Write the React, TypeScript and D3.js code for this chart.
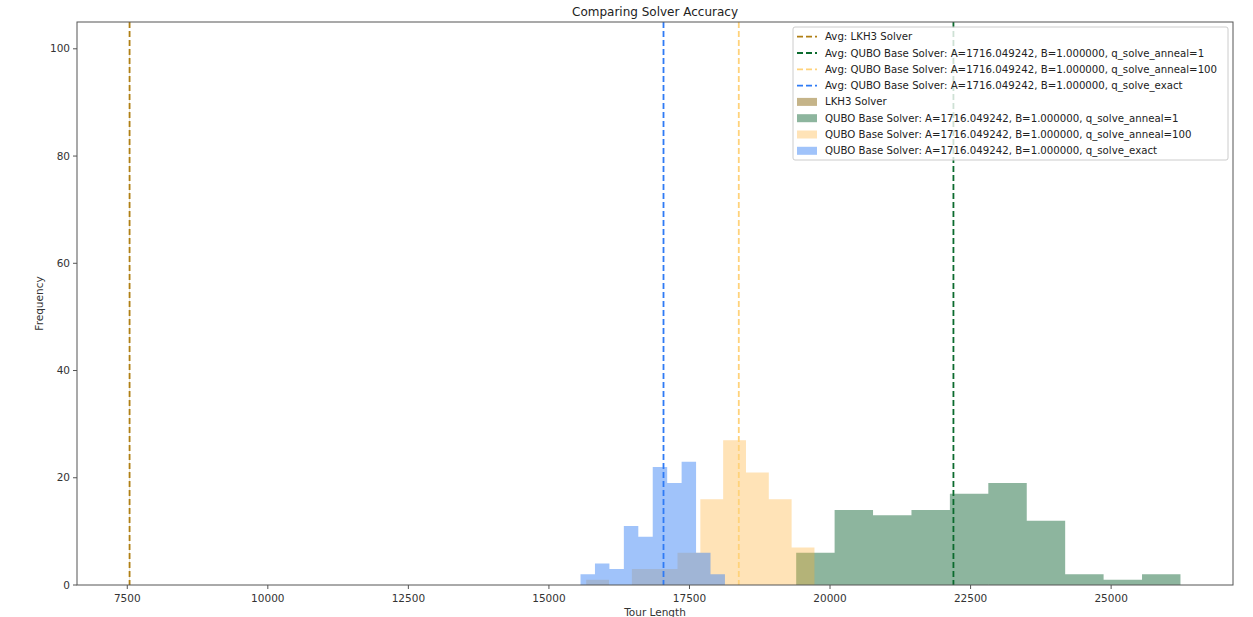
import * as d3 from "d3";

const W = 1253;
const H = 617;
const M = { top: 22, right: 20, bottom: 32, left: 77 };
const FONT = "'DejaVu Sans', Verdana, sans-serif";

// histogram series: [lo, hi] range of the 10 bins + counts
const lkhRange = [7540.5, 7541.5];
const lkhCounts = [0, 0, 0, 0, 0, 100, 0, 0, 0, 0];
const annealOneRange = [19398, 26233];
const annealOneCounts = [6, 14, 13, 14, 17, 19, 12, 2, 1, 2];
const annealHundredRange = [15663, 19723];
const annealHundredCounts = [1, 0, 3, 3, 6, 16, 27, 21, 16, 7];
const exactRange = [15562, 18131];
const exactCounts = [2, 4, 3, 11, 9, 22, 19, 23, 6, 2];

// averages (dashed lines)
const averages = [7541, 22195, 18377, 17038];

const xTicks = [7500, 10000, 12500, 15000, 17500, 20000, 22500, 25000];
const yTicks = [0, 20, 40, 60, 80, 100];

const PARAMS = "A=1716.049242, B=1.000000, ";
const lineLabels = [
  "Avg: LKH3 Solver",
  `Avg: QUBO Base Solver: ${PARAMS}q_solve_anneal=1`,
  `Avg: QUBO Base Solver: ${PARAMS}q_solve_anneal=100`,
  `Avg: QUBO Base Solver: ${PARAMS}q_solve_exact`,
];
const histLabels = [
  "LKH3 Solver",
  `QUBO Base Solver: ${PARAMS}q_solve_anneal=1`,
  `QUBO Base Solver: ${PARAMS}q_solve_anneal=100`,
  `QUBO Base Solver: ${PARAMS}q_solve_exact`,
];

const lineColors = ["#b07f14", "#0b6b2e", "#ffd27a", "#2f7bf5"];
const fillColors = ["#8b6914", "#1c6b3d", "#ffae30", "#4287f5"];
const fillOpacity = [0.5, 0.5, 0.35, 0.5];

const series = [
  { range: lkhRange, counts: lkhCounts },
  { range: annealOneRange, counts: annealOneCounts },
  { range: annealHundredRange, counts: annealHundredCounts },
  { range: exactRange, counts: exactCounts },
];

export default function App() {
  const innerW = W - M.left - M.right;
  const innerH = H - M.top - M.bottom;

  const xMin = d3.min(series, (s) => s.range[0]) as number;
  const xMax = d3.max(series, (s) => s.range[1]) as number;
  const pad = (xMax - xMin) * 0.05;
  const x = d3.scaleLinear().domain([xMin - pad, xMax + pad]).range([0, innerW]);
  const y = d3.scaleLinear().domain([0, 105]).range([innerH, 0]);

  // one path per series so neighbouring bins don't leave seams
  const histPath = (s: { range: number[]; counts: number[] }) => {
    const [lo, hi] = s.range;
    const step = (hi - lo) / s.counts.length;
    const p = d3.path();
    s.counts.forEach((c, i) => {
      if (c <= 0) return;
      const x0 = x(lo + i * step);
      const x1 = x(lo + (i + 1) * step);
      p.rect(x0, y(c), Math.max(x1 - x0, 0.3), y(0) - y(c));
    });
    return p.toString();
  };

  const legendX = 793 - M.left;
  const legendY = 27 - M.top;
  const rowH = 16.3;

  return (
    <div style={{ position: "absolute", left: 0, top: 0, background: "#fff" }}>
      <svg width={W} height={H} style={{ display: "block", fontFamily: FONT }}>
        <text x={M.left + innerW / 2} y={16} textAnchor="middle" fontSize={12} fill="#222">
          Comparing Solver Accuracy
        </text>
        <g transform={`translate(${M.left},${M.top})`}>
          {/* histograms */}
          {series.map((s, si) => (
            <path key={si} d={histPath(s)} fill={fillColors[si]} fillOpacity={fillOpacity[si]} />
          ))}

          {/* average lines */}
          {averages.map((v, i) => (
            <line
              key={i}
              x1={x(v)}
              x2={x(v)}
              y1={0}
              y2={innerH}
              stroke={lineColors[i]}
              strokeWidth={1.8}
              strokeDasharray="6 3"
            />
          ))}

          {/* frame */}
          <rect x={0} y={0} width={innerW} height={innerH} fill="none" stroke="#555" strokeWidth={1} />

          {/* x axis */}
          {xTicks.map((t) => (
            <g key={t} transform={`translate(${x(t)},${innerH})`}>
              <line y2={4} stroke="#555" />
              <text y={17} textAnchor="middle" fontSize={10.5} fill="#333">
                {t}
              </text>
            </g>
          ))}
          <text x={innerW / 2} y={innerH + 31} textAnchor="middle" fontSize={10.5} fill="#333">
            Tour Length
          </text>

          {/* y axis */}
          {yTicks.map((t) => (
            <g key={t} transform={`translate(0,${y(t)})`}>
              <line x2={-4} stroke="#555" />
              <text x={-7} dy="0.35em" textAnchor="end" fontSize={10.5} fill="#333">
                {t}
              </text>
            </g>
          ))}
          <text
            transform={`translate(${43 - M.left},${y(52.5)}) rotate(-90)`}
            textAnchor="middle"
            fontSize={10.5}
            fill="#333">
            Frequency
          </text>

          {/* legend */}
          <g transform={`translate(${legendX},${legendY})`}>
            <rect
              x={0}
              y={0}
              width={435}
              height={133}
              rx={2}
              fill="#fff"
              fillOpacity={0.8}
              stroke="#ccc"
            />
            {lineLabels.map((lab, i) => (
              <g key={lab} transform={`translate(4,${9.7 + i * rowH})`}>
                <line x1={0} x2={20} stroke={lineColors[i]} strokeWidth={1.8} strokeDasharray="6 3" />
                <text x={28} dy="0.35em" fontSize={10.2} fill="#222">
                  {lab}
                </text>
              </g>
            ))}
            {histLabels.map((lab, i) => (
              <g key={lab} transform={`translate(4,${9.7 + (i + 4) * rowH})`}>
                <rect
                  x={0}
                  y={-4}
                  width={20}
                  height={8}
                  fill={fillColors[i]}
                  fillOpacity={fillOpacity[i]}
                />
                <text x={28} dy="0.35em" fontSize={10.2} fill="#222">
                  {lab}
                </text>
              </g>
            ))}
          </g>
        </g>
      </svg>
    </div>
  );
}
